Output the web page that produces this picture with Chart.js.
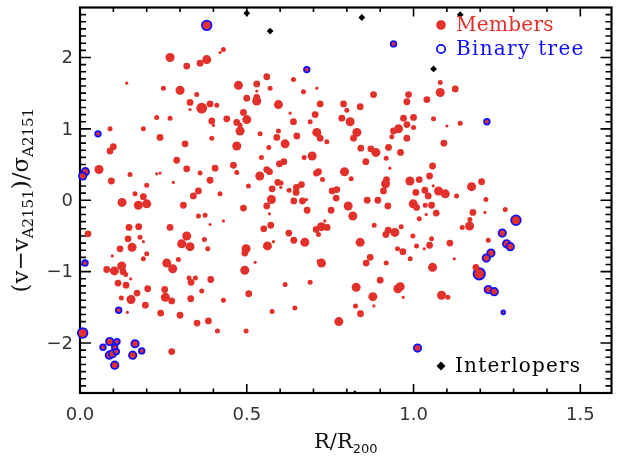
<!DOCTYPE html>
<html>
<head>
<meta charset="utf-8">
<script src="https://cdn.jsdelivr.net/npm/chart.js@4.4.1/dist/chart.umd.min.js"></script>
<style>
  html, body { margin: 0; padding: 0; background: #fff; }
</style>
</head>
<body>
<canvas id="c" width="619" height="459"></canvas>
<script>
// cluster members: R/R200, (v - v_A2151)/sigma_A2151, brightness class (1 faint .. 5 bright)
const memberR = [
  0.27,0.32,0.36,0.38,0.43,0.42,0.14,0.25,0.30,0.35,0.475,0.50,0.33,0.365,0.39,0.41,0.33,0.23,0.27,0.395,0.40,0.44,0.47,0.50,0.49,0.48,0.48,0.09,0.19,0.24,0.395,
  0.56,0.64,0.57,0.67,0.71,0.53,0.53,0.53,0.53,0.595,0.72,0.79,0.88,0.84,0.80,0.63,0.705,0.64,0.69,0.785,0.81,0.54,0.595,0.71,0.83,0.65,0.59,0.72,0.82,0.985,0.98,1.04,0.97,1.00,0.98,1.00,0.955,0.94,0.935,0.98,
  1.08,1.08,1.125,1.06,1.10,1.14,
  0.315,0.47,0.10,0.09,0.29,0.32,0.057,0.15,0.23,0.24,
  0.36,0.405,0.46,0.47,0.094,0.20,0.28,0.39,0.505,0.165,
  0.19,0.355,0.34,0.42,0.126,0.175,0.20,0.31,0.49,0.355,
  0.375,0.43,0.39,0.024,0.147,0.176,0.27,0.144,0.18,0.19,
  0.32,0.305,0.33,0.373,0.156,0.12,0.20,0.383,0.097,0.19,
  0.26,0.295,0.498,0.494,
  0.08,0.103,0.125,0.129,0.137,0.152,0.114,0.138,0.171,0.203,
  0.124,0.153,0.196,0.142,0.278,0.327,0.346,0.333,0.392,0.365,
  0.254,0.256,0.275,0.332,0.43,0.242,0.30,0.351,0.385,0.412,
  0.498,0.275,0.494,0.506,
  0.615,0.74,0.566,0.544,0.672,0.696,0.598,0.611,0.842,0.872,
  0.887,0.925,0.961,0.857,0.918,0.929,0.539,0.56,0.568,0.715,
  0.709,0.793,0.727,0.813,0.593,0.603,0.576,0.602,0.627,0.649,
  0.664,0.648,0.756,0.77,0.768,0.916,0.919,0.91,0.989,1.017,
  1.007,1.034,0.574,0.56,0.641,0.667,0.679,0.681,0.568,0.753,
  0.804,0.818,0.861,0.893,0.923,0.999,1.009,1.035,1.017,0.551,
  0.572,0.626,0.641,0.674,0.58,0.562,0.525,0.708,0.724,0.741,
  0.734,0.715,0.84,0.882,0.917,0.924,0.944,0.963,0.998,1.009,
  1.032,0.952,0.968,0.99,0.87,0.858,0.918,0.724,0.714,
  0.615,0.69,0.828,0.90,0.96,0.953,0.969,0.878,0.826,0.881,0.841,0.576,0.644,0.776,
  1.091,1.057,1.048,1.044,1.059,1.075,1.095,1.174,1.204,1.129,
  1.217,1.054,1.068,1.038,1.178,1.214,1.275,1.169,1.146,1.168,
  1.224,1.109,1.054,1.048,1.122,1.057,1.187,1.084,1.103
];
const memberV = [
  2.00,1.88,1.92,1.97,2.11,2.07,1.64,1.57,1.54,1.48,1.61,1.43,1.37,1.29,1.35,1.33,1.27,1.16,1.15,1.11,1.05,1.14,1.09,1.13,1.23,1.05,0.97,1.00,1.00,0.88,0.87,
  1.73,1.69,1.57,1.52,1.57,1.63,1.53,1.39,1.44,1.34,1.35,1.35,1.48,1.31,1.26,1.22,1.20,1.10,1.10,1.15,1.10,0.93,0.97,0.95,0.95,0.90,0.88,0.87,0.87,1.48,1.38,1.41,1.15,1.16,1.06,1.02,1.00,0.97,0.89,0.87,
  1.65,1.51,1.56,1.14,1.04,1.08,
  0.79,0.76,0.75,0.69,0.56,0.44,0.43,0.36,0.37,0.38,
  0.38,0.45,0.49,0.39,0.27,0.21,0.25,0.28,0.20,0.09,
  0.05,0.13,0.06,0.09,-0.03,-0.07,-0.05,-0.07,-0.11,-0.22,
  -0.21,-0.29,-0.34,-0.47,-0.38,-0.37,-0.38,-0.54,-0.52,-0.58,
  -0.50,-0.61,-0.65,-0.55,-0.66,-0.68,-0.75,-0.68,-0.78,-0.82,
  -0.88,-0.83,-0.68,-0.74,
  -0.97,-0.99,-0.92,-1.00,-1.04,-1.10,-1.16,-1.19,-1.30,-1.24,
  -1.37,-1.39,-1.47,-1.57,-0.96,-1.09,-1.09,-1.15,-1.11,-1.27,
  -1.25,-1.36,-1.41,-1.38,-1.40,-1.58,-1.61,-1.72,-1.69,-1.83,
  -1.83,-2.12,-0.98,-1.31,
  0.79,0.82,0.74,0.60,0.60,0.62,0.51,0.54,0.73,0.72,
  0.67,0.74,0.67,0.54,0.59,0.45,0.34,0.43,0.40,0.40,
  0.38,0.40,0.29,0.30,0.25,0.24,0.16,0.18,0.14,0.18,
  0.22,0.11,0.13,0.15,0.03,0.23,0.29,0.13,0.27,0.29,
  0.11,0.14,0.01,-0.08,-0.01,-0.01,0.01,-0.14,-0.19,-0.14,
  -0.08,-0.22,0.00,0.00,-0.08,-0.05,-0.10,-0.07,-0.26,-0.40,
  -0.35,-0.46,-0.56,-0.59,-0.58,-0.64,-0.87,-0.41,-0.37,-0.38,
  -0.29,-0.48,-0.59,-0.35,-0.48,-0.42,-0.45,-0.37,-0.50,-0.64,
  -0.68,-0.68,-0.72,-0.82,-0.80,-0.88,-0.88,-0.88,-0.85,
  -1.18,-1.15,-1.22,-1.12,-1.21,-1.24,-1.36,-1.35,-1.48,-1.48,-1.59,-1.56,-1.51,-1.70,
  0.80,0.48,0.34,0.06,0.20,0.13,0.09,0.19,0.26,0.06,
  0.01,-0.07,-0.18,-0.20,-0.17,-0.17,-0.13,-0.27,-0.38,-0.36,
  -0.56,-0.60,-0.54,-0.63,-0.82,-0.94,-0.94,-1.33,-1.36
];
const memberMag = [
  4,3,3,4,2,1,1,2,4,2,4,3,3,5,3,2,1,2,2,3,1,3,3,4,3,2,4,2,2,3,2,
  3,2,2,2,1,3,1,4,3,4,3,3,3,3,2,1,3,3,2,3,4,2,2,4,4,3,3,3,3,3,3,3,3,3,3,2,4,3,2,3,
  2,4,3,2,1,2,
  3,4,3,3,3,3,4,2,1,1,
  2,3,3,2,3,2,1,3,2,2,
  3,3,3,2,4,4,4,3,3,2,
  2,1,1,3,3,3,3,3,2,1,
  4,4,4,2,4,3,2,2,1,2,
  4,2,4,3,
  3,4,4,3,2,1,3,3,3,3,
  2,4,3,1,4,2,2,3,3,2,
  3,4,3,3,2,3,3,3,3,2,
  2,3,4,3,
  4,2,2,2,2,4,3,3,3,3,
  4,3,3,3,2,1,4,3,3,3,
  3,4,2,2,3,2,3,1,2,3,
  3,3,3,3,3,4,3,3,4,3,
  3,3,4,3,3,3,1,3,1,3,
  4,4,3,3,3,4,3,2,2,3,
  3,3,3,4,1,4,1,3,4,3,
  1,2,4,2,3,3,4,2,2,2,
  1,2,3,2,3,3,2,4,1,
  2,2,4,3,4,4,1,4,2,1,3,2,2,4,
  3,3,3,3,1,4,4,4,3,2,
  2,3,3,1,3,1,2,2,2,4,
  2,3,2,3,1,4,3,4,2
];

// members picked out by the binary tree
const binaryR = [
  0.38,0.054,0.68,0.94,1.22,0.016,0.008,0.015,0.116,0.008,
  0.089,0.111,0.069,0.104,0.088,0.097,0.109,0.165,0.185,0.158,
  0.104,1.012,1.307,1.266,1.279,1.29,1.232,1.218,1.197,1.224,
  1.242,1.269
];
const binaryV = [
  2.45,0.93,1.83,2.19,1.10,0.40,0.34,-0.88,-1.54,-1.86,
  -1.98,-1.98,-2.06,-2.06,-2.17,-2.15,-2.12,-2.01,-2.11,-2.17,
  -2.31,-2.07,-0.28,-0.46,-0.61,-0.65,-0.74,-0.81,-1.03,-1.25,
  -1.28,-1.57
];
const binaryMag = [
  4,2,2,2,2,3,3,2,2,4,
  3,2,2,2,3,3,2,3,2,3,
  3,3,4,3,3,3,3,3,5,3,
  3,1
];

// interlopers
const interR = [0.50, 0.57, 0.845, 1.14, 1.06, 0.824];
const interV = [2.62, 2.37, 2.56, 2.60, 1.84, -2.71];

const xTicks = [0, 0.5, 1.0, 1.5];
const xTickLabels = ['0.0', '0.5', '1.0', '1.5'];
const yTicks = [-2, -1, 0, 1, 2];
const yTickLabels = ['\u22122', '\u22121', '0', '1', '2'];

const RED = '#e2302a';
const BLUE = '#1010ff';
const magRadius = m => [0, 1.6, 2.5, 3.4, 4.5, 5.4][m];

const pts = (xs, ys) => xs.map((x, i) => ({ x: x, y: ys[i] }));

// draws text with subscripts, centred on (cx, cy)
function richText(ctx, parts, cx, cy, mainFont, subFont) {
  let w = 0;
  parts.forEach(p => { ctx.font = p[1] ? subFont : mainFont; w += ctx.measureText(p[0]).width; });
  let x = cx - w / 2;
  ctx.textAlign = 'left';
  ctx.textBaseline = 'alphabetic';
  parts.forEach(p => {
    ctx.font = p[1] ? subFont : mainFont;
    ctx.fillText(p[0], x, cy + (p[1] ? 12 : 7));
    x += ctx.measureText(p[0]).width;
  });
}

const frame = {
  id: 'frame',
  beforeDatasetsDraw(chart) {
    const { ctx, chartArea: a, scales: { x, y } } = chart;
    ctx.save();
    ctx.strokeStyle = '#000';
    ctx.lineWidth = 1.6;
    ctx.beginPath();
    for (let i = 1; i < 16; i++) {
      const px = x.getPixelForValue(i / 10), len = i % 5 === 0 ? 9 : 4.5;
      ctx.moveTo(px, a.bottom); ctx.lineTo(px, a.bottom - len);
      ctx.moveTo(px, a.top); ctx.lineTo(px, a.top + len);
    }
    for (let i = -26; i <= 26; i++) {
      const py = y.getPixelForValue(i / 10), len = i % 10 === 0 ? 11 : 6;
      ctx.moveTo(a.left, py); ctx.lineTo(a.left + len, py);
      ctx.moveTo(a.right, py); ctx.lineTo(a.right - len, py);
    }
    ctx.stroke();
    ctx.lineWidth = 2.2;
    ctx.strokeRect(a.left, a.top, a.right - a.left, a.bottom - a.top);

    ctx.fillStyle = '#333';
    ctx.font = '18px "DejaVu Sans"';
    ctx.textBaseline = 'middle';
    ctx.textAlign = 'center';
    xTicks.forEach((v, i) => ctx.fillText(xTickLabels[i], x.getPixelForValue(v), a.bottom + 22));
    ctx.textAlign = 'right';
    yTicks.forEach((v, i) => ctx.fillText(yTickLabels[i], a.left - 7, y.getPixelForValue(v) + 1));

    ctx.fillStyle = '#111';
    richText(ctx, [['R/R', false], ['200', true]], (a.left + a.right) / 2, a.bottom + 48,
      '21px "DejaVu Serif"', '13px "DejaVu Sans"');
    ctx.translate(21, (a.top + a.bottom) / 2);
    ctx.rotate(-Math.PI / 2);
    richText(ctx, [['(v\u2212v', false], ['A2151', true], [')/\u03c3', false], ['A2151', true]], 0, 0,
      '23px "DejaVu Serif"', '15px "DejaVu Serif"');
    ctx.restore();
  },
  afterDraw(chart) {
    const { ctx } = chart;
    ctx.save();
    ctx.font = '20px "DejaVu Serif"';
    ctx.textBaseline = 'middle';
    ctx.textAlign = 'left';
    ctx.fillStyle = RED;
    ctx.beginPath(); ctx.arc(441, 25, 4.8, 0, Math.PI * 2); ctx.fill();
    ctx.letterSpacing = '0.3px';
    ctx.fillText('Members', 456, 26);
    ctx.strokeStyle = BLUE; ctx.lineWidth = 1.8;
    ctx.beginPath(); ctx.arc(441, 49, 4.2, 0, Math.PI * 2); ctx.stroke();
    ctx.fillStyle = BLUE;
    ctx.letterSpacing = '1.3px';
    ctx.fillText('Binary tree', 456, 50);
    ctx.fillStyle = '#000';
    ctx.beginPath();
    ctx.moveTo(441, 361.5); ctx.lineTo(445.5, 366); ctx.lineTo(441, 370.5); ctx.lineTo(436.5, 366);
    ctx.closePath(); ctx.fill();
    ctx.letterSpacing = '1.2px';
    ctx.fillText('Interlopers', 455, 367);
    ctx.restore();
  }
};

new Chart(document.getElementById('c'), {
  type: 'scatter',
  data: {
    datasets: [
      {
        label: 'Members',
        data: pts(memberR, memberV),
        backgroundColor: RED,
        borderWidth: 0,
        pointRadius: c => magRadius(memberMag[c.dataIndex]),
        clip: false
      },
      {
        label: 'Binary tree',
        data: pts(binaryR, binaryV),
        backgroundColor: RED,
        borderColor: BLUE,
        borderWidth: 1.8,
        pointRadius: c => magRadius(binaryMag[c.dataIndex]) + 0.3,
        clip: false
      },
      {
        label: 'Interlopers',
        data: pts(interR, interV),
        backgroundColor: '#000',
        borderWidth: 0,
        pointStyle: 'rectRot',
        pointRadius: 3.4
      }
    ]
  },
  options: {
    responsive: false,
    animation: false,
    devicePixelRatio: 1,
    events: [],
    layout: { padding: { left: 80, right: 2, top: 7, bottom: 66 } },
    plugins: { legend: { display: false }, tooltip: { enabled: false } },
    scales: {
      x: { type: 'linear', min: 0, max: 1.5935, display: false },
      y: { type: 'linear', min: -2.7, max: 2.7, display: false }
    }
  },
  plugins: [frame]
});
</script>
</body>
</html>
